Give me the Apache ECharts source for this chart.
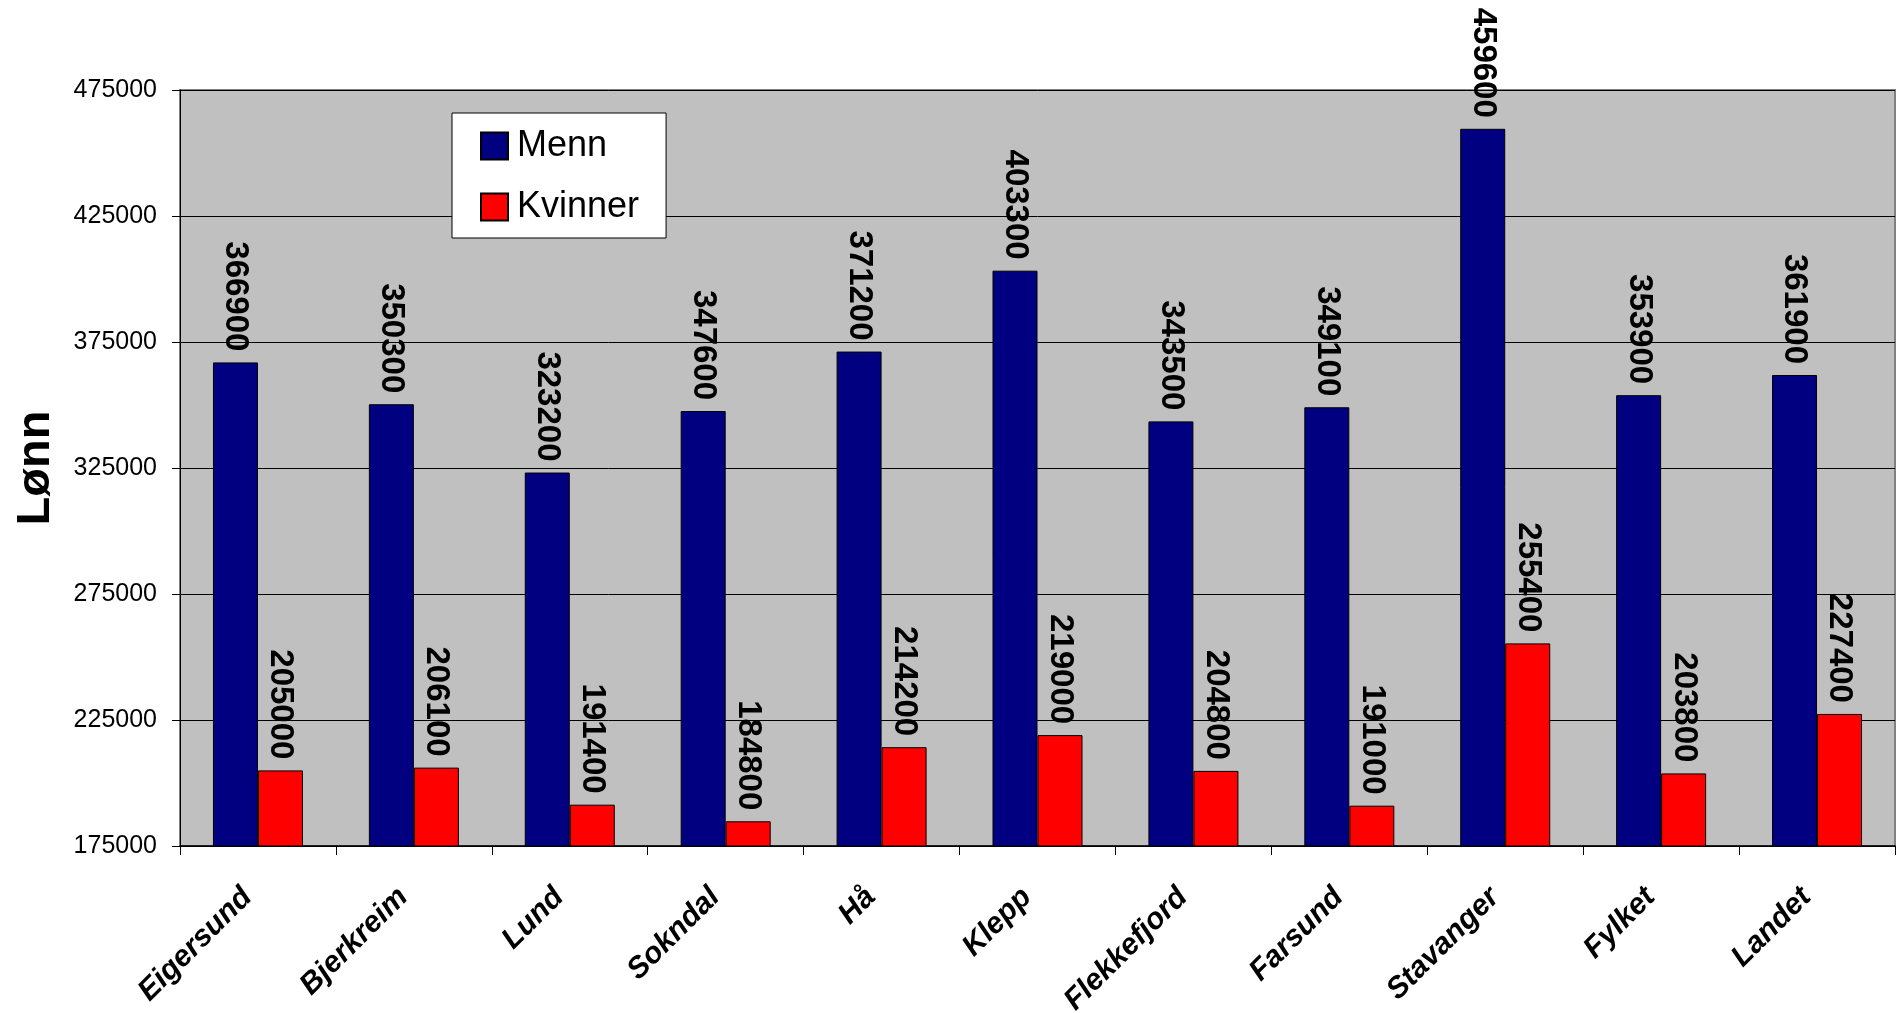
<!DOCTYPE html>
<html>
<head>
<meta charset="utf-8">
<script src="https://cdn.jsdelivr.net/npm/echarts@6/dist/echarts.min.js"></script>
<style>
html,body{margin:0;padding:0;background:#fff;}
#chart{width:1896px;height:1013px;}
</style>
</head>
<body>
<div id="chart"></div>
<script>
const categories = ['Eigersund','Bjerkreim','Lund','Sokndal','Hå','Klepp','Flekkefjord','Farsund','Stavanger','Fylket','Landet'];
const menn = [366900, 350300, 323200, 347600, 371200, 403300, 343500, 349100, 459600, 353900, 361900];
const kvinner = [205000, 206100, 191400, 184800, 214200, 219000, 204800, 191000, 255400, 203800, 227400];
const yTicks = [175000, 225000, 275000, 325000, 375000, 425000, 475000];
const yName = 'Lønn';

const FONT = 'Liberation Sans, Arial, sans-serif';
const chart = echarts.init(document.getElementById('chart'), null, {renderer: 'canvas'});

const dataLabel = {
  show: true,
  position: 'top',
  distance: 11,
  rotate: -90,
  align: 'right',
  verticalAlign: 'middle',
  fontFamily: FONT,
  fontWeight: 'bold',
  fontSize: 33,
  color: '#000'
};

chart.setOption({
  animation: false,
  textStyle: {fontFamily: FONT},
  grid: {
    left: 180, right: 1, top: 90, bottom: 167,
    outerBoundsMode: 'none',
    containLabel: false,
    show: true,
    backgroundColor: '#C0C0C0',
    borderColor: '#808080',
    borderWidth: 2
  },
  legend: {
    orient: 'vertical',
    left: 452, top: 113,
    padding: [15, 27, 13, 28],
    backgroundColor: '#fff',
    borderColor: '#000',
    borderWidth: 1,
    itemWidth: 27, itemHeight: 27, itemGap: 25,
    icon: 'rect',
    textStyle: {fontFamily: FONT, fontSize: 36, color: '#000', padding: [0,0,0,4]},
    data: ['Menn', 'Kvinner']
  },
  xAxis: {
    type: 'category',
    data: categories,
    axisLine: {lineStyle: {color: '#000', width: 1.5}},
    axisTick: {show: true, length: 9, lineStyle: {color: '#000'}},
    axisLabel: {
      interval: 0, rotate: 45, margin: 36, padding: [0, 15, 0, 0],
      fontFamily: FONT, fontWeight: 'bold', fontStyle: 'italic', fontSize: 30, color: '#000'
    },
    splitLine: {show: false}
  },
  yAxis: {
    type: 'value',
    min: 175000, max: 475000,
    name: yName,
    nameLocation: 'middle',
    nameRotate: 90,
    nameGap: 120,
    nameTextStyle: {fontFamily: FONT, fontWeight: 'bold', fontSize: 47, color: '#000'},
    axisLine: {show: true, lineStyle: {color: '#000', width: 1}},
    axisTick: {show: true, length: 8, lineStyle: {color: '#000'}, customValues: yTicks},
    axisLabel: {margin: 23, fontFamily: FONT, fontSize: 25, color: '#000', customValues: yTicks,
      formatter: function (v) { return String(v); }},
    splitLine: {show: true, lineStyle: {color: '#000', width: 1}}
  },
  series: [
    {
      name: 'Menn', type: 'bar', data: menn,
      barWidth: 45, barGap: '0%',
      itemStyle: {color: '#000080', borderColor: '#000', borderWidth: 1},
      label: dataLabel
    },
    {
      name: 'Kvinner', type: 'bar', data: kvinner,
      barWidth: 45, barGap: '0%',
      itemStyle: {color: '#FF0000', borderColor: '#000', borderWidth: 1},
      label: dataLabel
    }
  ]
});
</script>
</body>
</html>
